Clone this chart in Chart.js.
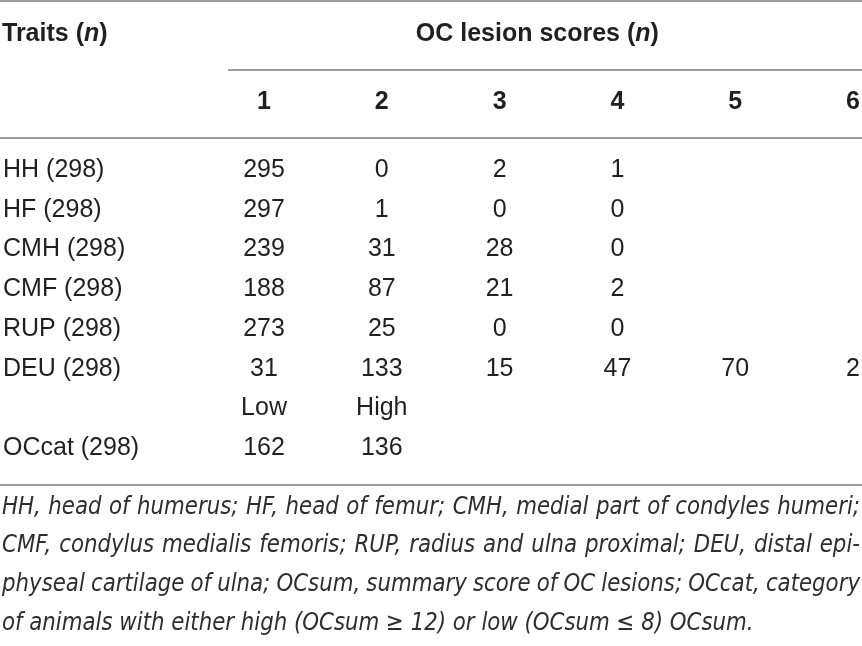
<!DOCTYPE html>
<html>
<head>
<meta charset="utf-8">
<script src="https://cdn.jsdelivr.net/npm/chart.js@4.4.1/dist/chart.umd.min.js"></script>
<style>
    html, body { margin: 0; padding: 0; background: #fff; }
    #wrap { width: 862px; height: 646px; position: relative; }
</style>
</head>
<body>
<div id="wrap"><canvas id="tablaOC"></canvas></div>
<script>
// Dades de la taula
const scores = [1, 2, 3, 4, 5, 6];
const traits = ['HH (298)', 'HF (298)', 'CMH (298)', 'CMF (298)', 'RUP (298)', 'DEU (298)'];
const hh = [295, 0, 2, 1];
const hf = [297, 1, 0, 0];
const cmh = [239, 31, 28, 0];
const cmf = [188, 87, 21, 2];
const rup = [273, 25, 0, 0];
const deu = [31, 133, 15, 47, 70, 2];
const ocGroups = ['Low', 'High'];
const occatTrait = 'OCcat (298)';
const occat = [162, 136];
const notes = [
    'HH, head of humerus; HF, head of femur; CMH, medial part of condyles humeri;',
    'CMF, condylus medialis femoris; RUP, radius and ulna proximal; DEU, distal epi-',
    'physeal cartilage of ulna; OCsum, summary score of OC lesions; OCcat, category',
    'of animals with either high (OCsum \u2265 12) or low (OCsum \u2264 8) OCsum.'
];

// la fila dels grups (Low/High) no te nom: un espai com a etiqueta
const groupRow = ' ';
const rowLabels = traits.concat([groupRow, occatTrait]);
const traitRows = [hh, hf, cmh, cmf, rup, deu];

const FONT = '"Liberation Sans", Arial, sans-serif';
const NOTE_FONT = 'italic 25px "Liberation Sans Narrow", "DejaVu Sans Condensed", "Liberation Sans", sans-serif';
const INK = '#231f20';
const RULE = '#9d9d9d';

// un dataset per fila, cada cel·la es un punt (x = puntuacio, y = fila)
let datasets = traitRows.map((vals, r) => ({
    label: traits[r],
    data: vals.map((v, i) => ({ x: scores[i], y: traits[r], v: v }))
}));
datasets.push({
    label: 'OCcat groups',
    data: ocGroups.map((g, i) => ({ x: scores[i], y: groupRow, v: g }))
});
datasets.push({
    label: occatTrait,
    data: occat.map((v, i) => ({ x: scores[i], y: occatTrait, v: v }))
});

function drawRuns(ctx, runs, x, y, align) {
    let total = 0;
    runs.forEach(r => { ctx.font = r.f; total += ctx.measureText(r.t).width; });
    let cx = align === 'center' ? x - total / 2 : x;
    ctx.textAlign = 'left';
    runs.forEach(r => {
        ctx.font = r.f;
        ctx.fillText(r.t, cx, y);
        cx += ctx.measureText(r.t).width;
    });
}

function hRule(ctx, x1, x2, y) {
    ctx.beginPath();
    ctx.moveTo(x1, y);
    ctx.lineTo(x2, y);
    ctx.stroke();
}

const tablePlugin = {
    id: 'tablePlugin',
    afterDraw(chart) {
        const ctx = chart.ctx;
        const xs = chart.scales.x;
        const ys = chart.scales.y;
        const area = chart.chartArea;
        const W = chart.width;
        ctx.save();

        // filets
        ctx.strokeStyle = RULE;
        ctx.lineWidth = 2;
        const x1 = xs.getPixelForValue(scores[0]) - 36;
        hRule(ctx, 0, W, area.top - 149);
        hRule(ctx, x1, W, area.top - 80);
        hRule(ctx, 0, W, area.top - 12);
        hRule(ctx, 0, W, area.bottom + 17);

        ctx.fillStyle = INK;
        ctx.textBaseline = 'middle';

        // capcaleres
        const bold = 'bold 25px ' + FONT;
        const boldIt = 'italic bold 25px ' + FONT;
        drawRuns(ctx, [{ t: 'Traits (', f: bold }, { t: 'n', f: boldIt }, { t: ')', f: bold }],
            2, area.top - 116, 'left');
        drawRuns(ctx, [{ t: 'OC lesion scores (', f: bold }, { t: 'n', f: boldIt }, { t: ')', f: bold }],
            xs.getPixelForValue(3.32), area.top - 116, 'center');
        ctx.font = bold;
        ctx.textAlign = 'center';
        scores.forEach(s => ctx.fillText(String(s), xs.getPixelForValue(s), area.top - 48));

        // noms de les files
        ctx.font = '25px ' + FONT;
        ctx.textAlign = 'left';
        rowLabels.forEach((lab, i) => {
            if (lab.trim()) ctx.fillText(lab, 3, ys.getPixelForValue(i));
        });

        // cel·les
        ctx.textAlign = 'center';
        chart.data.datasets.forEach((ds, di) => {
            const meta = chart.getDatasetMeta(di);
            meta.data.forEach((pt, i) => {
                ctx.fillText(String(ds.data[i].v), pt.x, pt.y);
            });
        });

        // nota al peu, justificada
        ctx.font = NOTE_FONT;
        ctx.textAlign = 'left';
        ctx.fillStyle = '#2e2e2e';
        const natural = ctx.measureText(notes[0]).width;
        const k = 848 / natural;
        const lineW = 858;
        notes.forEach((line, li) => {
            const y = area.bottom + 39 + li * 38.7;
            ctx.save();
            ctx.translate(2, y);
            ctx.scale(k, 1);
            const words = line.split(' ');
            if (li < notes.length - 1) {
                const sum = words.reduce((a, w) => a + ctx.measureText(w).width, 0);
                const gap = (lineW / k - sum) / (words.length - 1);
                let cx = 0;
                words.forEach(w => {
                    ctx.fillText(w, cx, 0);
                    cx += ctx.measureText(w).width + gap;
                });
            } else {
                ctx.fillText(line, 0, 0);
            }
            ctx.restore();
        });

        ctx.restore();
    }
};

const ctx = document.getElementById('tablaOC').getContext('2d');
const tablaOC = new Chart(ctx, {
    type: 'scatter',
    data: { datasets: datasets },
    options: {
        responsive: true,
        maintainAspectRatio: false,
        animation: false,
        events: [],
        layout: { padding: { top: 150, bottom: 178, left: 0, right: 0 } },
        elements: { point: { radius: 0, hoverRadius: 0 } },
        plugins: { legend: { display: false }, tooltip: { enabled: false } },
        scales: {
            x: { type: 'linear', min: -1.241, max: 6.076, display: false },
            y: { type: 'category', labels: rowLabels, offset: true, display: false }
        }
    },
    plugins: [tablePlugin]
});
</script>
</body>
</html>
